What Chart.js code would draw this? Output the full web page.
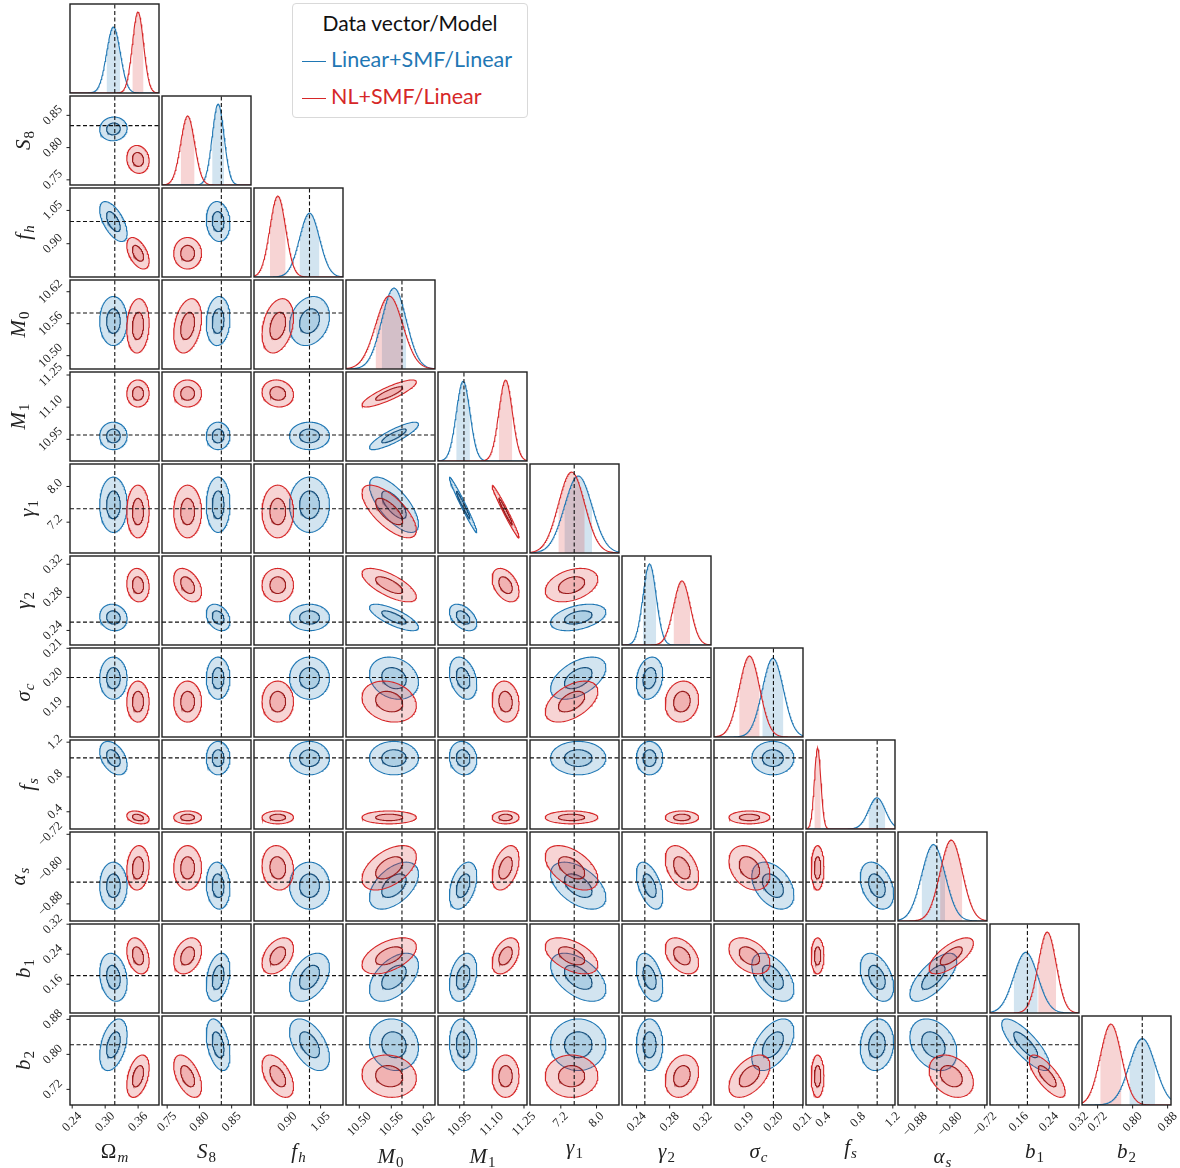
<!DOCTYPE html>
<html>
<head>
<meta charset="utf-8">
<title>Posterior corner plot</title>
<script src="https://cdn.jsdelivr.net/npm/chart.js@4.4.1/dist/chart.umd.min.js"></script>
<style>
  html, body { margin: 0; padding: 0; background: #fff; }
  body { position: relative; width: 1180px; height: 1168px; overflow: hidden; }
  canvas.panel { position: absolute; }
  #legend { position: absolute; left: 292px; top: 3px; width: 234px; height: 113px;
            border: 1px solid #d9d9d9; border-radius: 4px; background: rgba(255,255,255,0.85);
            font-family: Lato, "Open Sans", sans-serif; }
  #legend .title { position: absolute; left: 0; right: 0; top: 7px; line-height: 24px;
                   text-align: center; font-size: 21px; color: #111; }
  #legend .entry { position: absolute; left: 9px; line-height: 24px; font-size: 21.5px; white-space: nowrap; }
  #legend .entry i { display: inline-block; width: 24px; height: 0; border-top: 1.3px solid;
                     vertical-align: middle; margin-right: 5px; }
</style>
</head>
<body>
<div id="legend">
  <div class="title">Data vector/Model</div>
  <div class="entry" style="top:43px;color:#1f77b4"><i></i>Linear+SMF/Linear</div>
  <div class="entry" style="top:80px;color:#d62728"><i></i>NL+SMF/Linear</div>
</div>
<script>
// parameters, in plotting order
const symbol    = ['Ω', 'S', 'f', 'M', 'M', 'γ', 'γ', 'σ', 'f', 'α', 'b', 'b'];
const subscript = ['m', '8', 'h', '0', '1', '1', '2', 'c', 's', 's', '1', '2'];

// axis limits and ticks
const axisLo = [0.236, 0.742, 0.750, 10.475, 10.849, 6.509, 0.2224, 0.1797, 0.202, -0.9193, 0.0833, 0.6843];
const axisHi = [0.398, 0.880, 1.151, 10.642, 11.264, 8.504, 0.3300, 0.2101, 1.225, -0.7147, 0.3205, 0.8877];
const tickVals = [
  [0.24, 0.30, 0.36], [0.75, 0.80, 0.85], [0.90, 1.05], [10.50, 10.56, 10.62],
  [10.95, 11.10, 11.25], [7.2, 8.0], [0.24, 0.28, 0.32], [0.19, 0.20, 0.21],
  [0.4, 0.8, 1.2], [-0.88, -0.80, -0.72], [0.16, 0.24, 0.32], [0.72, 0.80, 0.88]
];
const tickDigits = [2, 2, 2, 2, 2, 1, 2, 2, 1, 2, 2, 2];

// input (fiducial) values, dashed lines
const fiducial = [0.3175, 0.834, 1.0, 10.58, 10.97, 7.5, 0.25, 0.20, 1.02, -0.83, 0.183, 0.822];

// Linear+SMF / Linear
const blueMean  = [0.315, 0.829, 1.0, 10.565, 10.966, 7.59, 0.2557, 0.1998, 1.017, -0.838, 0.1785, 0.822];
const blueSigma = [0.0125, 0.0092, 0.045, 0.023, 0.032, 0.31, 0.008, 0.0036, 0.096, 0.027, 0.032, 0.0295];
const blueCorr = [
  [],
  [0.05],
  [-0.6, -0.1],
  [0.0, 0.1, 0.2],
  [0.0, 0.0, 0.0, 0.85],
  [0.0, 0.0, 0.0, -0.7, -0.98],
  [-0.1, -0.3, 0.0, -0.75, -0.45, 0.4],
  [0.0, 0.0, 0.0, -0.2, -0.3, 0.5, 0.2],
  [-0.4, 0.0, 0.0, 0.0, -0.1, 0.0, 0.0, 0.0],
  [0.0, -0.1, 0.0, 0.5, 0.4, -0.5, -0.5, -0.4, -0.35],
  [-0.2, 0.3, 0.4, 0.5, 0.3, -0.5, -0.4, -0.5, -0.4, 0.7],
  [0.4, -0.4, -0.5, -0.1, -0.1, 0.0, 0.0, 0.5, 0.1, -0.3, -0.8]
];

// NL+SMF / Linear
const redMean  = [0.3597, 0.7817, 0.857, 10.556, 11.164, 7.44, 0.2948, 0.1918, 0.335, -0.797, 0.2357, 0.7502];
const redSigma = [0.0102, 0.0108, 0.0355, 0.0255, 0.0315, 0.295, 0.0101, 0.0035, 0.037, 0.0255, 0.024, 0.0242];
const redCorr = [
  [],
  [-0.1],
  [-0.5, 0.0],
  [0.1, 0.3, 0.3],
  [0.0, 0.0, -0.1, 0.85],
  [0.0, 0.0, 0.0, -0.7, -0.98],
  [-0.1, -0.4, 0.0, -0.7, -0.4, 0.35],
  [0.0, 0.0, 0.0, -0.2, -0.1, 0.5, 0.1],
  [-0.3, 0.0, 0.0, 0.0, 0.0, 0.0, 0.0, 0.0],
  [0.1, 0.0, -0.1, 0.5, 0.4, -0.5, -0.4, -0.3, 0.0],
  [-0.3, 0.3, 0.4, 0.5, 0.4, -0.5, -0.4, -0.4, 0.0, 0.7],
  [0.4, -0.5, -0.5, -0.1, 0.0, 0.0, 0.2, 0.5, 0.0, -0.3, -0.75]
];

const N = symbol.length;
const PITCH = 92, SIZE = 89, X0 = 70, Y0 = 4, PAGE_H = 1168;
const LEVELS = [2, 1];           // contour radii in sigma units (outer, inner)
const TICK_FONT = 12.5;

const chains = [
  { mean: blueMean, sigma: blueSigma, corr: blueCorr,
    line: '#1f77b4', inner: '#17507d', fill: 'rgba(31,119,180,0.2)' },
  { mean: redMean, sigma: redSigma, corr: redCorr,
    line: '#d62728', inner: '#9a1b1c', fill: 'rgba(214,39,40,0.2)' }
];

function gaussian(x, mu, sig) {
  return Math.exp(-0.5 * ((x - mu) / sig) ** 2) / (sig * Math.sqrt(2 * Math.PI));
}

function curve(mu, sig, lo, hi, n) {
  const pts = [];
  for (let k = 0; k <= n; k++) {
    const x = lo + (hi - lo) * k / n;
    pts.push({ x, y: gaussian(x, mu, sig) });
  }
  return pts;
}

function ellipse(mx, my, sx, sy, rho, k) {
  const pts = [], q = Math.sqrt(1 - rho * rho);
  for (let t = 0; t <= 120; t++) {
    const a = 2 * Math.PI * t / 120, u = Math.cos(a), v = Math.sin(a);
    pts.push({ x: mx + k * sx * u, y: my + k * sy * (rho * u + q * v) });
  }
  return pts;
}

function tickText(v, i) {
  const s = Math.abs(v).toFixed(tickDigits[i]);
  return v < 0 ? '\u2212' + s : s;
}

// axis label: symbol with a subscript, centred on x, baseline at y
function drawSymbol(ctx, i, x, y) {
  const main = (symbol[i] === 'Ω' ? '' : 'italic ') + '21px "Liberation Serif"';
  const sub = (/[0-9]/.test(subscript[i]) ? '' : 'italic ') + '15px "Liberation Serif"';
  ctx.font = main; const w1 = ctx.measureText(symbol[i]).width;
  ctx.font = sub; const w2 = ctx.measureText(subscript[i]).width;
  const x0 = x - (w1 + w2 + 1) / 2;
  ctx.textAlign = 'left'; ctx.textBaseline = 'alphabetic';
  ctx.font = main; ctx.fillText(symbol[i], x0, y);
  ctx.font = sub; ctx.fillText(subscript[i], x0 + w1 + 1, y + 4);
}

// frame, outer ticks, rotated tick labels and axis titles
const cornerAxes = {
  id: 'cornerAxes',
  afterDraw(chart, _args, o) {
    const { ctx, chartArea: a, scales } = chart;
    ctx.save();
    ctx.strokeStyle = '#1e1e1e';
    ctx.lineWidth = 1.4;
    ctx.strokeRect(a.left, a.top, a.right - a.left, a.bottom - a.top);
    ctx.fillStyle = '#222';
    ctx.lineWidth = 1;
    ctx.font = TICK_FONT + 'px "Liberation Serif"';

    if (o.showX) {
      let maxD = 0;
      for (const v of tickVals[o.xi]) {
        const px = scales.x.getPixelForValue(v);
        if (px < a.left - 0.6 || px > a.right + 0.6) continue;
        ctx.beginPath(); ctx.moveTo(px, a.bottom); ctx.lineTo(px, a.bottom + 3.5); ctx.stroke();
        const txt = tickText(v, o.xi);
        const d = (ctx.measureText(txt).width + TICK_FONT * 0.75) / Math.SQRT2;
        maxD = Math.max(maxD, d);
        ctx.save();
        ctx.translate(px, a.bottom + 6 + d / 2);
        ctx.rotate(-Math.PI / 4);
        ctx.textAlign = 'center'; ctx.textBaseline = 'middle';
        ctx.fillText(txt, 0, 0);
        ctx.restore();
        ctx.font = TICK_FONT + 'px "Liberation Serif"';
      }
      drawSymbol(ctx, o.xi, (a.left + a.right) / 2, a.bottom + 6 + maxD + 25);
      ctx.font = TICK_FONT + 'px "Liberation Serif"';
    }

    if (o.showY) {
      let maxD = 0;
      for (const v of tickVals[o.yi]) {
        const py = scales.y.getPixelForValue(v);
        if (py < a.top - 0.6 || py > a.bottom + 0.6) continue;
        ctx.beginPath(); ctx.moveTo(a.left, py); ctx.lineTo(a.left - 3.5, py); ctx.stroke();
        const txt = tickText(v, o.yi);
        const d = (ctx.measureText(txt).width + TICK_FONT * 0.75) / Math.SQRT2;
        maxD = Math.max(maxD, d);
        ctx.save();
        ctx.translate(a.left - 6 - d / 2, py);
        ctx.rotate(-Math.PI / 4);
        ctx.textAlign = 'center'; ctx.textBaseline = 'middle';
        ctx.fillText(txt, 0, 0);
        ctx.restore();
        ctx.font = TICK_FONT + 'px "Liberation Serif"';
      }
      ctx.save();
      ctx.translate(a.left - 6 - maxD - 12, (a.top + a.bottom) / 2);
      ctx.rotate(-Math.PI / 2);
      drawSymbol(ctx, o.yi, 0, 0);
      ctx.restore();
    }
    ctx.restore();
  }
};

function dashed(points) {
  return { data: points, borderColor: '#111', borderWidth: 1.1, borderDash: [4, 2.5], fill: false, order: 0 };
}

function diagDatasets(i) {
  const sets = [];
  chains.forEach((ch, n) => {
    const mu = ch.mean[i], sig = ch.sigma[i];
    sets.push({ data: curve(mu, sig, mu - sig, mu + sig, 40), borderWidth: 0,
                backgroundColor: ch.fill, fill: 'origin', order: 10 - n });
    sets.push({ data: curve(mu, sig, axisLo[i], axisHi[i], 160), borderColor: ch.line,
                borderWidth: 1.1, fill: false, order: 4 - n });
  });
  const top = 1.1 * Math.max(...chains.map(ch => gaussian(ch.mean[i], ch.mean[i], ch.sigma[i])));
  sets.push(dashed([{ x: fiducial[i], y: 0 }, { x: fiducial[i], y: top }]));
  return { sets, yMin: 0, yMax: top };
}

function pairDatasets(r, c) {
  const sets = [];
  chains.forEach((ch, n) => {
    const rho = ch.corr[r][c];
    LEVELS.forEach((k, l) => {
      sets.push({
        data: ellipse(ch.mean[c], ch.mean[r], ch.sigma[c], ch.sigma[r], rho, k),
        borderColor: l === 0 ? ch.line : ch.inner, borderWidth: 1.1,
        backgroundColor: ch.fill, fill: 'shape', order: 20 - 4 * n - l
      });
    });
  });
  sets.push(dashed([{ x: fiducial[c], y: axisLo[r] }, { x: fiducial[c], y: axisHi[r] }]));
  sets.push(dashed([{ x: axisLo[c], y: fiducial[r] }, { x: axisHi[c], y: fiducial[r] }]));
  return { sets, yMin: axisLo[r], yMax: axisHi[r] };
}

function makePanel(r, c) {
  const left = X0 + PITCH * c, top = Y0 + PITCH * r;
  const leftAxis = c === 0 && r > 0, bottomAxis = r === N - 1;
  // extra room around panels that carry tick labels
  const padL = leftAxis ? left : (bottomAxis ? 24 : 2);
  const padR = bottomAxis ? 24 : 2;
  const padT = leftAxis ? Math.min(24, top) : 2;
  const padB = bottomAxis ? PAGE_H - (top + SIZE) : (leftAxis ? 24 : 2);
  const W = padL + SIZE + padR, H = padT + SIZE + padB;
  const canvas = document.createElement('canvas');
  canvas.className = 'panel';
  canvas.width = W; canvas.height = H;
  canvas.style.left = (left - padL) + 'px';
  canvas.style.top = (top - padT) + 'px';
  canvas.style.width = W + 'px';
  canvas.style.height = H + 'px';
  document.body.appendChild(canvas);

  const { sets, yMin, yMax } = r === c ? diagDatasets(c) : pairDatasets(r, c);
  new Chart(canvas, {
    type: 'line',
    data: { datasets: sets },
    options: {
      responsive: false,
      animation: false,
      devicePixelRatio: 1,
      events: [],
      layout: { padding: { left: padL, right: padR, top: padT, bottom: padB } },
      elements: { point: { radius: 0 }, line: { tension: 0 } },
      scales: {
        x: { type: 'linear', display: false, min: axisLo[c], max: axisHi[c] },
        y: { type: 'linear', display: false, min: yMin, max: yMax }
      },
      plugins: {
        legend: { display: false },
        tooltip: { enabled: false },
        cornerAxes: { xi: c, yi: r, showX: bottomAxis, showY: leftAxis }
      }
    },
    plugins: [cornerAxes]
  });
}

for (let r = 0; r < N; r++) {
  for (let c = 0; c <= r; c++) makePanel(r, c);
}
</script>
</body>
</html>
